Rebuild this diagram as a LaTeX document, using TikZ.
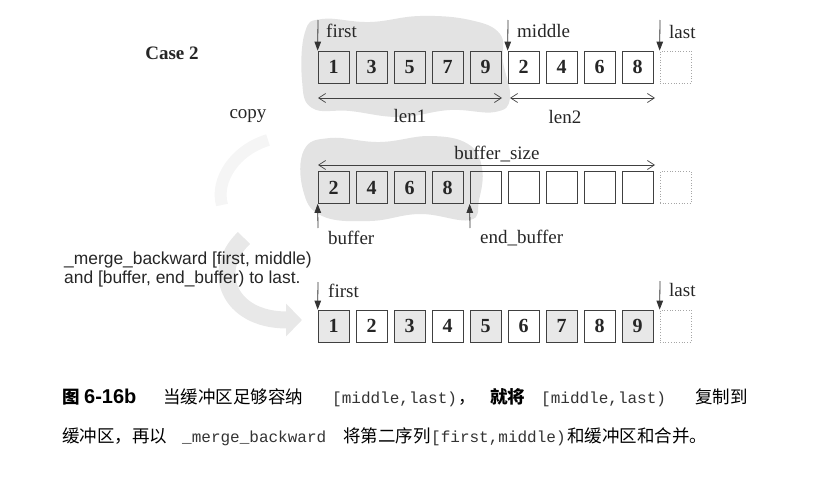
\documentclass[tikz,border=0pt]{standalone}
\usepackage{fontspec}
\setmainfont{Liberation Serif}
\newfontfamily\sansf{Liberation Sans}
\newfontfamily\monof{Liberation Mono}
\newfontfamily\cjk{Noto Sans CJK SC}
\usetikzlibrary{arrows.meta}
\begin{document}
\begin{tikzpicture}[x=1pt,y=-1pt,
  cell/.style={draw=black!75, line width=0.7pt, minimum width=31pt, minimum height=32pt, inner sep=0pt, text=black!85, font=\fontsize{20}{20}\selectfont\bfseries},
  ghost/.style={draw=black!35, dotted, line width=0.7pt, minimum width=31pt, minimum height=32pt, inner sep=0pt},
  lbl/.style={font=\fontsize{19}{19}\selectfont, inner sep=0pt, text=black!85},
  sanslbl/.style={font=\sansf\fontsize{17.4}{17.4}\selectfont, inner sep=0pt, text=black!85, anchor=west},
  ptr/.style={draw=black!80, line width=0.8pt, -{Triangle[length=9pt,width=6.5pt]}},
  spanarr/.style={draw=black!75, line width=0.7pt, {Straight Barb[length=7pt,width=9pt]}-{Straight Barb[length=7pt,width=9pt]}},
  blob/.style={fill=black!11, draw=none},
  capc/.style={font=\cjk\fontsize{17.5}{17.5}\selectfont, inner sep=0pt, anchor=base west},
  capm/.style={font=\monof\fontsize{16}{16}\selectfont, inner sep=0pt, anchor=base west, text=black!80},
]
\useasboundingbox (0,0) rectangle (827,479);

% background grey blobs
\fill[blob] plot[smooth cycle, tension=0.7] coordinates {(305,32) (322,19) (370,22) (420,16) (470,20) (500,34) (503,62) (510,98) (495,112) (450,110) (400,117) (350,111) (312,108) (302,80)};
\fill[blob] plot[smooth cycle, tension=0.7] coordinates {(304,150) (330,138) (380,142) (430,136) (468,144) (482,168) (479,200) (470,220) (420,214) (370,221) (322,216) (303,190)};
\coordinate (fa) at (268,140);
\coordinate (fb) at (222,205);
\draw[line width=12pt, black!4] (fa) .. controls (235,150) and (215,180) .. (fb);
\coordinate (cs) at (244,238);
\coordinate (ce) at (302,320);
\draw[line width=17pt, black!9, -{Triangle[length=16pt,width=32pt]}] (cs) .. controls (210,270) and (228,320) .. (ce);

% row 1
\foreach \v [count=\i] in {1,3,5,7,9,2,4,6,8}
  \node[cell] (a\i) at ({333.5+38*(\i-1)},67) {\v};
\node[ghost] (a10) at (675.5,67) {};

% row 2
\foreach \v [count=\i] in {2,4,6,8,{},{},{},{},{}}
  \node[cell] (b\i) at ({333.5+38*(\i-1)},187.5) {\v};
\node[ghost] (b10) at (675.5,187.5) {};

% row 3
\foreach \i in {1,3,5,7,9}
  \node[cell, fill=black!9] (c\i) at ({333.5+38*(\i-1)},326) {\i};
\foreach \i in {2,4,6,8}
  \node[cell] (c\i) at ({333.5+38*(\i-1)},326) {\i};
\node[ghost] (c10) at (675.5,326) {};

% texts
\node[font=\fontsize{19}{19}\selectfont\bfseries, text=black!85] (case) at (172,53) {Case 2};
\node[lbl] (copy) at (248,116) {copy};

% row 1 pointers
\coordinate (pf) at (318,20);
\draw[ptr] (pf) -- (a1.north west);
\node[lbl, anchor=west] (tf) at (326,31) {first};
\coordinate (pm) at (508,20);
\draw[ptr] (pm) -- (a6.north west);
\node[lbl, anchor=west] (tm) at (517,31) {middle};
\coordinate (pl) at (660,20);
\draw[ptr] (pl) -- (a10.north west);
\node[lbl, anchor=west] (tl) at (669,32) {last};

% lengths
\coordinate (l1s) at (318,98);
\coordinate (l1e) at (502,98);
\draw[spanarr] (l1s) -- (l1e);
\node[lbl] (len1) at (410,116) {len1};
\coordinate (l2s) at (510,98);
\coordinate (l2e) at (655,98);
\draw[spanarr] (l2s) -- (l2e);
\node[lbl] (len2) at (565,117) {len2};

\coordinate (bss) at (318,165);
\coordinate (bse) at (655,165);
\draw[spanarr] (bss) -- (bse);
\node[lbl] (bsz) at (497,154) {buffer\_size};

% row 2 pointers
\coordinate (pb) at (318,228);
\draw[ptr] (pb) -- (b1.south west);
\node[lbl, anchor=west] (tb) at (328,238) {buffer};
\coordinate (pe) at (470,228);
\draw[ptr] (pe) -- (b5.south west);
\node[lbl, anchor=west] (te) at (480,238) {end\_buffer};

% sans explanation
\node[sanslbl] (m1) at (64,260) {\_merge\_backward [first, middle)};
\node[sanslbl] (m2) at (64,279) {and [buffer, end\_buffer) to last.};

% row 3 pointers
\coordinate (qf) at (318,282);
\draw[ptr] (qf) -- (c1.north west);
\node[lbl, anchor=west] (uf) at (328,291) {first};
\coordinate (ql) at (660,281);
\draw[ptr] (ql) -- (c10.north west);
\node[lbl, anchor=west] (ul) at (669,290) {last};

% caption line 1
\node[capc] (k1) at (62,403) {\bfseries 图};
\node[inner sep=0pt, anchor=base west, font=\sansf\fontsize{20}{20}\selectfont\bfseries] (k2) at (84,403) {6-16b};
\node[capc] (k3) at (163,403) {当缓冲区足够容纳};
\node[capm] (k4) at (332,403) {[middle,last)};
\node[capc] (k5) at (458,403) {，};
\node[capc] (k6) at (490,403) {\bfseries 就将};
\node[capm] (k7) at (541,403) {[middle,last)};
\node[capc] (k8) at (695,403) {复制到};
% caption line 2
\node[capc] (j1) at (62,442) {缓冲区，再以};
\node[capm] (j2) at (182,442) {\_merge\_backward};
\node[capc] (j3) at (343,442) {将第二序列};
\node[capm] (j4) at (431,442) {[first,middle)};
\node[capc] (j5) at (567,442) {和缓冲区和合并。};
\end{tikzpicture}
\end{document}
